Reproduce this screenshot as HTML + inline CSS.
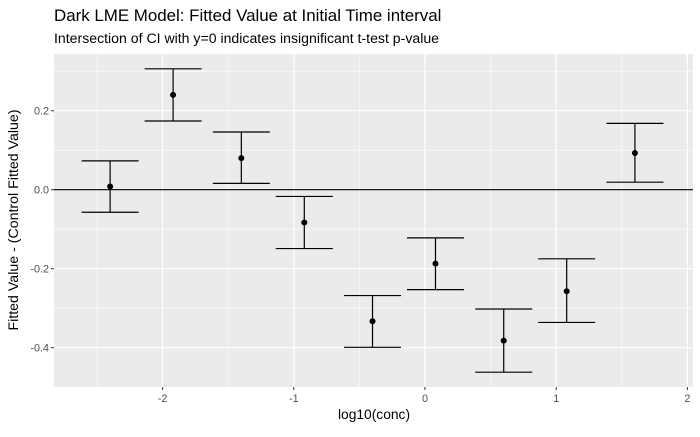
<!DOCTYPE html>
<html><head><meta charset="utf-8"><style>
body{margin:0;background:#fff;font-family:"Liberation Sans",sans-serif;}
</style></head><body>
<svg id="chart" width="700" height="432" xmlns="http://www.w3.org/2000/svg" font-family="Liberation Sans, sans-serif">
<text x="54" y="21" font-size="16.9" fill="#000">Dark LME Model: Fitted Value at Initial Time interval</text>
<text x="54" y="43" font-size="14.1" fill="#000">Intersection of CI with y=0 indicates insignificant t-test p-value</text>
<rect x="54" y="54" width="639" height="333" fill="#ebebeb"/>
<g id="grid"></g>
<g id="marks"></g>
<g id="axes"></g>
<text x="374" y="419" font-size="13.8" text-anchor="middle">log10(conc)</text>
<text transform="translate(18,220) rotate(-90)" font-size="14.2" text-anchor="middle">Fitted Value - (Control Fitted Value)</text>
</svg>
<script>
const concs=[-2.4,-1.92,-1.4,-0.92,-0.4,0.08,0.6,1.08,1.6];
const fitted=[0.008,0.24,0.08,-0.083,-0.333,-0.187,-0.382,-0.257,0.093];
const upper=[0.073,0.306,0.146,-0.017,-0.268,-0.122,-0.302,-0.175,0.168];
const lower=[-0.057,0.174,0.016,-0.149,-0.399,-0.253,-0.462,-0.336,0.019];
const xTicks=[-2,-1,0,1,2];
const yTicks=[-0.4,-0.2,0.0,0.2];
const yTickLabels=["-0.4","-0.2","0.0","0.2"];
const NS="http://www.w3.org/2000/svg";
const X=v=>425+v*131.2, Y=v=>189.7-v*395;
function mk(p,t,a){const e=document.createElementNS(NS,t);for(const k in a)e.setAttribute(k,a[k]);p.appendChild(e);return e;}
const grid=document.getElementById('grid'),marks=document.getElementById('marks'),axes=document.getElementById('axes');
[-2.5,-1.5,-0.5,0.5,1.5].forEach(v=>{const l=mk(grid,'line',{x1:X(v),x2:X(v),y1:54,y2:387,stroke:'#fff','stroke-width':0.6});

});
[0.3,0.1,-0.1,-0.3].forEach(v=>{const l=mk(grid,'line',{x1:54,x2:693,y1:Y(v),y2:Y(v),stroke:'#fff','stroke-width':0.6});

});
xTicks.forEach(v=>{const l=mk(grid,'line',{x1:X(v),x2:X(v),y1:54,y2:387,stroke:'#fff','stroke-width':1.2});


const t=mk(axes,'line',{x1:X(v),x2:X(v),y1:387,y2:390,stroke:'#333'});


const tx=mk(axes,'text',{x:X(v),y:402,'font-size':10.8,fill:'#4d4d4d','text-anchor':'middle'});tx.textContent=v;

});
yTicks.forEach((v,i)=>{const l=mk(grid,'line',{x1:54,x2:693,y1:Y(v),y2:Y(v),stroke:'#fff','stroke-width':1.2});


const t=mk(axes,'line',{x1:51,x2:54,y1:Y(v),y2:Y(v),stroke:'#333'});


const tx=mk(axes,'text',{x:49,y:Y(v)+4,'font-size':10.8,fill:'#4d4d4d','text-anchor':'end'});tx.textContent=yTickLabels[i];

});
const h=mk(marks,'line',{x1:54,x2:693,y1:Y(0),y2:Y(0),stroke:'#000','stroke-width':1.2});


concs.forEach((c,i)=>{const x=X(c),w=28.5;
const g=mk(marks,'g',{stroke:'#000','stroke-width':1.2});


mk(g,'line',{x1:x,x2:x,y1:Y(upper[i]),y2:Y(lower[i])});
mk(g,'line',{x1:x-w,x2:x+w,y1:Y(upper[i]),y2:Y(upper[i])});
mk(g,'line',{x1:x-w,x2:x+w,y1:Y(lower[i]),y2:Y(lower[i])});
const p=mk(marks,'circle',{cx:x,cy:Y(fitted[i]),r:3,fill:'#000'});

});
</script>
</body></html>
